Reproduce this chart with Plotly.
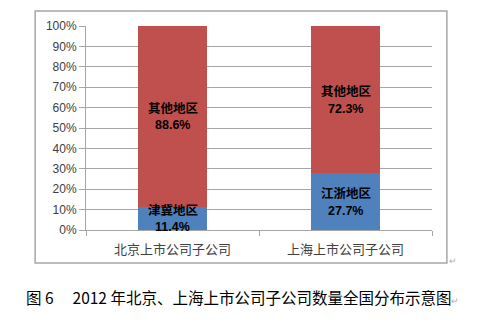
import plotly.graph_objects as go

categories = ["北京上市公司子公司", "上海上市公司子公司"]
local_names = ["津冀地区", "江浙地区"]
local_share = [0.114, 0.277]
other_name = "其他地区"
other_share = [0.886, 0.723]
y_ticks = [i / 10 for i in range(11)]
caption = "图 6　 2012 年北京、上海上市公司子公司数量全国分布示意图"

BLUE = "#4F81BD"
RED = "#C0504D"
FONT = "Liberation Sans, Noto Sans CJK SC, sans-serif"
LABEL_FONT = "Noto Sans CJK SC, Liberation Serif, serif"

fig = go.Figure()
fig.add_trace(go.Bar(x=categories, y=local_share, marker=dict(color=BLUE, line=dict(width=0)),
                     width=0.4, hoverinfo="skip"))
fig.add_trace(go.Bar(x=categories, y=other_share, marker=dict(color=RED, line=dict(width=0)),
                     width=0.4, hoverinfo="skip"))

annotations = []
def add_label(c, yv, name, val):
    f = dict(family=LABEL_FONT, size=12.5, color="#000000")
    annotations.append(dict(x=c, y=yv, xref="x", yref="y", showarrow=False, yshift=9,
                            yanchor="middle", borderpad=0, text=f"<b>{name}</b>", font=f))
    annotations.append(dict(x=c, y=yv, xref="x", yref="y", showarrow=False, yshift=-9,
                            yanchor="middle", borderpad=0,
                            text=f"<b>{val*100:.1f}%</b>",
                            font=dict(family=FONT, size=12.5, color="#000000")))

for c, ln, lv, ov in zip(categories, local_names, local_share, other_share):
    add_label(c, lv / 2, ln, lv)
    add_label(c, lv + ov / 2, other_name, ov)

fig.update_layout(
    width=490, height=324,
    margin=dict(l=86, r=58, t=26, b=94),
    barmode="stack",
    showlegend=False,
    plot_bgcolor="white", paper_bgcolor="white",
    font=dict(family=FONT, size=12, color="#404040"),
    xaxis=dict(showline=True, linecolor="#A6A6A6", linewidth=1, ticks="outside",
               tickson="boundaries", ticklen=5, tickcolor="#A6A6A6",
               ticklabelstandoff=7,
               tickfont=dict(family=LABEL_FONT, size=13, color="#404040"),
               showgrid=False, fixedrange=True),
    yaxis=dict(range=[0, 1], tickvals=y_ticks, tickformat=".0%",
               showline=True, linecolor="#A6A6A6", linewidth=1, ticks="outside",
               ticklen=6, tickcolor="#A6A6A6", showgrid=True, gridcolor="#A6A6A6",
               gridwidth=1, zeroline=False,
               tickfont=dict(family=FONT, size=12, color="#404040"), fixedrange=True),
    annotations=annotations + [
        dict(x=-0.178, y=-0.33, xref="paper", yref="paper", xanchor="left", yanchor="middle",
             showarrow=False, text=caption + "<span style='color:#B0B0B0;font-size:9px'>↵</span>",
             font=dict(family="Noto Sans CJK SC, Liberation Serif, serif", size=15.5, color="#000000")),
        dict(x=1.06, y=-0.15, xref="paper", yref="paper", xanchor="center", yanchor="middle",
             showarrow=False, text="↵", font=dict(size=9, color="#B0B0B0")),
    ],
    shapes=[dict(type="rect", xref="paper", yref="paper", x0=-0.147, x1=1.043,
                 y0=-0.162, y1=1.0735, line=dict(color="#A6A6A6", width=1.5),
                 fillcolor="rgba(0,0,0,0)", layer="below")],
)

fig.write_html("out.html")
